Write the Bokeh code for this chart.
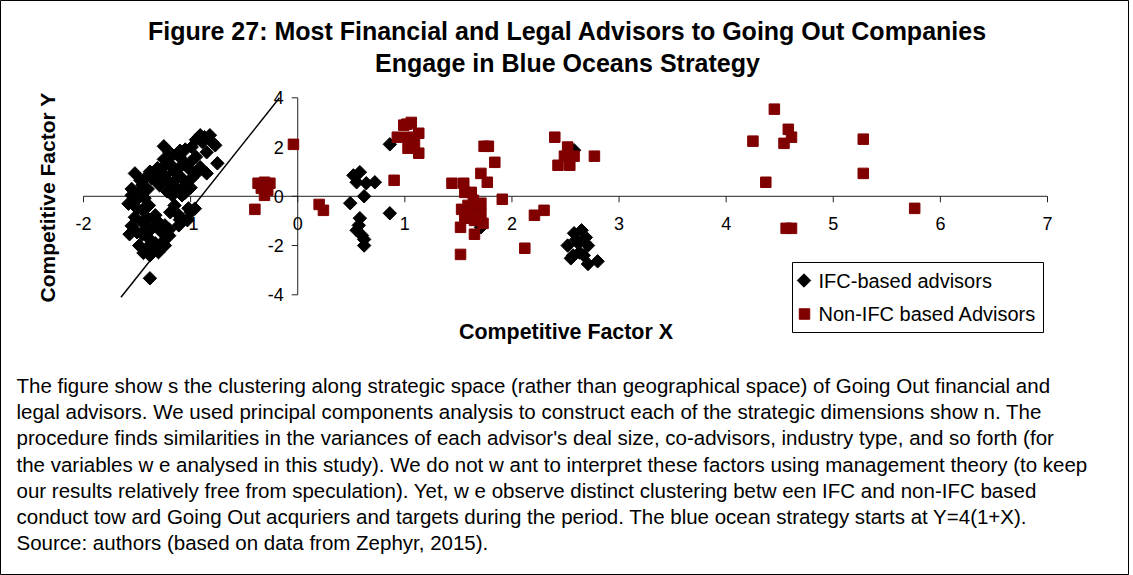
import numpy as np
from bokeh.plotting import figure
from bokeh.models import Range1d
from bokeh.core.properties import value
from bokeh.embed import file_html
from bokeh.resources import INLINE

# ---------------- data ----------------
title_lines = ["Figure 27: Most Financial and Legal Advisors to Going Out Companies",
               "Engage in Blue Oceans Strategy"]
x_label = "Competitive Factor X"
y_label = "Competitive Factor Y"
series_names = ["IFC-based advisors", "Non-IFC based Advisors"]
caption_lines = [
    "The figure show s the clustering along strategic space (rather than geographical space) of Going Out financial and",
    "legal advisors. We used principal components analysis to construct each of the strategic dimensions show n. The",
    "procedure finds similarities in the variances of each advisor's deal size, co-advisors, industry type, and so forth (for",
    "the variables w e analysed in this study). We do not w ant to interpret these factors using management theory (to keep",
    "our results relatively free from speculation). Yet, w e observe distinct clustering betw een IFC and non-IFC based",
    "conduct tow ard Going Out acquriers and targets during the period. The blue ocean strategy starts at Y=4(1+X).",
    "Source: authors (based on data from Zephyr, 2015).",
]

x_ticks = [-2, -1, 0, 1, 2, 3, 4, 5, 6, 7]
y_ticks = [-4, -2, 0, 2, 4]

ifc_x = [-1.25, -1.52, -1.38, -1.57, -1.44, -1.30, -1.24, -0.96, -1.03, -0.91,
         -0.82, -0.77, -0.75, -0.85, -0.91, -0.99, -1.17, -1.10, -1.31, -1.02,
         -1.08, -1.45, -1.55, -1.50, -1.39, -1.17, -1.08, -1.19, -1.11, -1.33,
         -1.45, -1.36, -1.27, -1.39, -1.48, -1.33, -1.41, -1.24, -1.15, -1.20,
         -1.36, -1.48, -1.43, -1.29, -1.17, -1.05, -0.99, -1.02, -1.15, -1.52,
         -1.50, -1.24, -1.11, -1.30, -0.85, -0.89, -1.40, -1.22, -1.12, -1.42,
         -1.30, -1.20, -1.05, -0.95, -1.12, -1.25, -1.47, -1.58,
         -1.00, -0.93, -0.80, -0.87, -0.95, -1.05, -1.18, -1.25, -1.38, -1.42,
         -1.55, -1.52, -1.45, -1.40, -1.55, -1.45, -1.35, -1.38, -1.25, -1.20,
         -1.10, -1.00, -1.05, -1.00, -1.13, -1.22, -1.32, -1.10, -1.20,
         0.58, 0.52, 0.55, 0.64, 0.72, 0.62, 0.49, 0.86, 0.58, 0.57,
         0.55, 0.60, 0.62, 0.62, 0.86, 1.71, 2.58,
         2.65, 2.58, 2.69, 2.52, 2.62, 2.71, 2.63, 2.57, 2.67, 2.55,
         2.71, 2.80, 2.60]
ifc_y = [2.03, 0.93, -3.33, -1.54, -2.30, -2.27, -2.00, -0.50, -0.97, 2.48,
         2.48, 2.07, 1.34, 0.93, 1.18, 2.00, 1.67, 1.58, 1.14, 1.14,
         0.73, 0.45, 0.04, -0.49, -0.37, 0.04, 0.04, -0.65, -0.77, -0.77,
         -1.06, -1.30, -1.46, -1.71, -2.00, -1.91, -2.11, 0.85, 0.98, 1.34,
         0.73, 0.16, -0.08, 0.45, 0.45, 0.45, 0.73, -0.49, -0.37, -0.85,
         -1.46, -1.18, -1.18, 0.98, 1.79, 2.20, 0.30, 0.20, 0.25, -1.35,
         -1.05, -1.60, 1.90, 1.60, 1.10, 1.50, 0.65, -0.30,
         1.40, 1.00, 2.20, 2.40, 2.30, 1.30, 1.20, 1.20, 1.00, 0.75,
         0.30, -0.20, -0.55, -0.90, -1.20, -1.55, -2.00, -2.40, -1.80, -1.35,
         -0.95, -0.65, 0.15, 0.35, 0.70, 0.65, 0.65, 1.85, 1.80,
         0.98, 0.85, 0.57, 0.53, 0.57, 0.00, -0.28, -0.69, -0.89, -1.18,
         -1.38, -1.59, -1.75, -2.00, 2.11, -1.26, 1.87,
         -1.38, -1.50, -1.67, -2.00, -1.91, -2.00, -2.28, -2.40, -2.40, -2.52,
         -2.75, -2.64, -1.75]

non_ifc_x = [-0.04, -0.40, -0.37, -0.31, -0.26, -0.31, -0.34, -0.28, 0.20, 0.24,
             0.90, 1.02, 1.06, 1.13, 0.93, 1.03, 1.03, 1.13, 1.09, 0.99,
             1.78, 1.74, 1.84, 1.71, 1.77, 1.44, 1.55, 1.56, 1.62, 1.91,
             1.64, 1.71, 1.53, 1.60, 1.71, 1.56, 1.65, 1.73, 1.52, 1.65,
             1.52, 1.69, 1.59, 2.12, 2.21, 2.30,
             2.40, 2.52, 2.49, 2.58, 2.43, 2.54, 2.77,
             4.45, 4.25, 4.58, 4.61, 4.54, 4.37, 5.28, 5.28, 5.76, 4.56, 4.61]
non_ifc_y = [2.11, -0.53, 0.53, 0.57, 0.53, 0.04, 0.33, 0.25, -0.33, -0.57,
             0.65, 2.93, 3.00, 2.56, 2.40, 2.40, 1.95, 1.75, 2.15, 2.89,
             2.03, 2.03, 1.38, 0.93, 0.57, 0.53, 0.53, 0.16, 0.16, -0.12,
             -0.16, -0.28, -0.53, -0.65, -0.69, -0.89, -0.98, -1.10, -1.26, -1.54,
             -2.36, -0.49, -0.37, -2.11, -0.77, -0.57,
             2.40, 2.00, 1.63, 1.63, 1.26, 1.26, 1.63,
             3.54, 2.24, 2.72, 2.40, 2.15, 0.57, 2.32, 0.93, -0.49, -1.30, -1.30]

blue_ocean_x = [-1.65, -0.17]
blue_ocean_y = [-4.1, 4.0]

# ---------------- layout ----------------
W, H = 1129, 575
OFF = 0                       # figure is drawn at the page's top-left
PXX = (1047 - 83) / 9.0       # pixels per x unit
PXY = (294.3 - 97.3) / 8.0    # pixels per y unit
x_start = -2 - (83 - OFF) / PXX
x_end = x_start + W / PXX
y_end = 4 + (97.3 - OFF) / PXY
y_start = y_end - H / PXY


def cx(px):
    return x_start + (px - OFF) / PXX


def cy(py):
    return y_end - (py - OFF) / PXY


FONT = value("Liberation Sans")
RED = "#800000"
DIAMOND = 9.5

p = figure(width=W, height=H, x_range=Range1d(x_start, x_end), y_range=Range1d(y_start, y_end),
           x_axis_type=None, y_axis_type=None, toolbar_location=None, output_backend="svg",
           min_border=0, min_border_left=0, min_border_right=0, min_border_top=0, min_border_bottom=0,
           background_fill_color="white", border_fill_color="white")
p.outline_line_color = "black"
p.outline_line_width = 1

# axes through origin
p.segment(x0=[min(x_ticks)], y0=[0], x1=[max(x_ticks)], y1=[0], line_color="#222222", line_width=1)
p.segment(x0=[0], y0=[min(y_ticks)], x1=[0], y1=[max(y_ticks)], line_color="#222222", line_width=1)
p.segment(x0=x_ticks, y0=[0] * len(x_ticks), x1=x_ticks, y1=[-6 / PXY] * len(x_ticks),
          line_color="#222222", line_width=1)
p.segment(x0=[0] * len(y_ticks), y0=y_ticks, x1=[-6 / PXX] * len(y_ticks), y1=y_ticks,
          line_color="#222222", line_width=1)

p.text(x=x_ticks, y=[-27.5 / PXY] * len(x_ticks), text=[str(t) for t in x_ticks],
       text_align="center", text_baseline="middle", text_font=FONT, text_font_size="18px",
       text_color="black")
p.text(x=[-14 / PXX] * len(y_ticks), y=y_ticks, text=[str(t) for t in y_ticks],
       text_align="right", text_baseline="middle", text_font=FONT, text_font_size="18px",
       text_color="black")

# data
p.scatter(ifc_x, ifc_y, marker="square", angle=np.pi / 4, size=DIAMOND,
          fill_color="black", line_color="black")
p.scatter(non_ifc_x, non_ifc_y, marker="square", size=10.5,
          fill_color=RED, line_color=RED)
p.line(blue_ocean_x, blue_ocean_y, line_color="black", line_width=1.5)

# legend (manual)
p.quad(left=[cx(792)], right=[cx(1043)], top=[cy(262)], bottom=[cy(332)],
       fill_color="white", line_color="black", line_width=1)
p.scatter([cx(803.5)], [cy(280)], marker="square", angle=np.pi / 4, size=DIAMOND,
          fill_color="black", line_color="black")
p.scatter([cx(804)], [cy(313.5)], marker="square", size=10.5, fill_color=RED, line_color=RED)
p.text(x=[cx(818)] * 2, y=[cy(280), cy(313.5)], text=series_names, text_align="left",
       text_baseline="middle", text_font=FONT, text_font_size="20px", text_color="black")

# titles
p.text(x=[cx(567)] * 2, y=[cy(30), cy(62)], text=title_lines, text_align="center",
       text_baseline="middle", text_font=FONT, text_font_size="25px", text_font_style="bold",
       text_color="black")
p.text(x=[cx(565.5)], y=[cy(331)], text=[x_label], text_align="center", text_baseline="middle",
       text_font=FONT, text_font_size="21.4px", text_font_style="bold", text_color="black")
p.text(x=[cx(47)], y=[cy(197)], text=[y_label], angle=np.pi / 2, text_align="center",
       text_baseline="middle", text_font=FONT, text_font_size="21px", text_font_style="bold",
       text_color="black")

# caption
p.text(x=[cx(16)] * len(caption_lines), y=[cy(385 + 26.2 * i) for i in range(len(caption_lines))],
       text=caption_lines, text_align="left", text_baseline="middle", text_font=FONT,
       text_font_size="20.5px", text_color="black")

open("out.html", "w").write(file_html(p, INLINE))
